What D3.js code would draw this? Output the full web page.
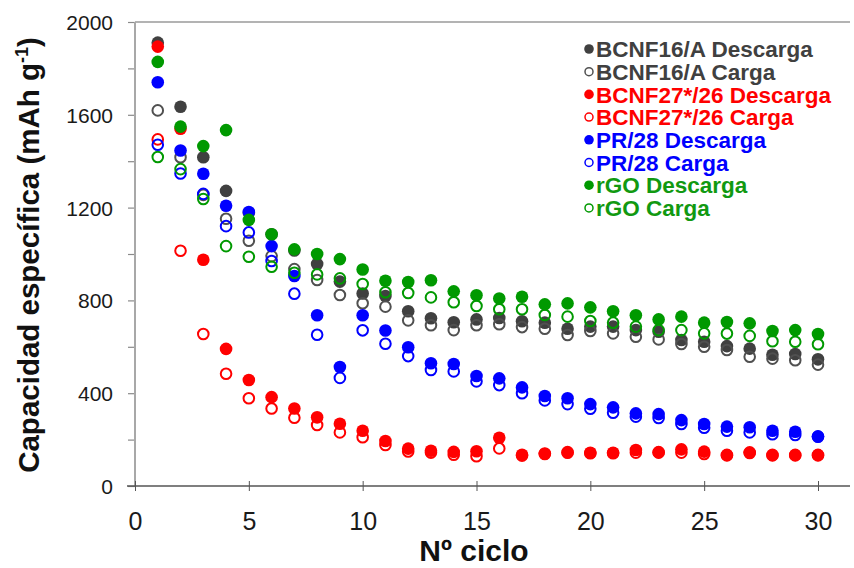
<!DOCTYPE html>
<html>
<head>
<meta charset="utf-8">
<script src="https://cdn.jsdelivr.net/npm/d3@7"></script>
<style>
  html, body { margin: 0; padding: 0; background: #fff; }
  svg { display: block; }
</style>
</head>
<body>
<svg id="chart" width="854" height="568"></svg>
<script>
// Capacidad específica frente al número de ciclo
const cycles = d3.range(1, 31);

const bcnf16Descarga = [1911, 1635, 1417, 1272, 1178, 1085, 1015, 957, 881, 830, 819, 753, 723, 706, 718, 724, 710, 704, 678, 687, 687, 672, 665, 629, 622, 603, 592, 566, 569, 546];
const bcnf16Carga    = [1619, 1417, 1255, 1152, 1057, 991, 935, 888, 823, 788, 773, 714, 693, 672, 693, 697, 685, 678, 651, 668, 658, 643, 632, 612, 600, 586, 557, 549, 542, 523];
const bcnf27Descarga = [1894, 1540, 975, 591, 457, 383, 334, 296, 268, 238, 194, 161, 152, 147, 150, 208, 135, 140, 146, 143, 143, 155, 146, 158, 148, 134, 145, 134, 134, 134];
const bcnf27Carga    = [1494, 1014, 655, 484, 378, 334, 294, 263, 231, 210, 177, 149, 144, 135, 128, 162, 131, 138, 143, 141, 141, 144, 144, 144, 138, 132, 142, 132, 132, 132];
const pr28Descarga   = [1740, 1446, 1346, 1208, 1181, 1034, 905, 736, 513, 736, 670, 598, 529, 526, 474, 464, 425, 388, 378, 353, 339, 313, 310, 284, 267, 256, 253, 238, 234, 214];
const pr28Carga      = [1471, 1347, 1259, 1120, 1093, 970, 829, 652, 466, 671, 613, 560, 500, 494, 451, 435, 400, 369, 353, 333, 316, 299, 293, 267, 251, 238, 231, 223, 220, 212];
const rgoDescarga    = [1828, 1549, 1465, 1534, 1147, 1085, 1020, 1000, 978, 933, 885, 879, 887, 839, 822, 808, 816, 783, 787, 770, 753, 736, 718, 730, 704, 707, 701, 668, 672, 655];
const rgoCarga       = [1418, 1366, 1237, 1034, 988, 945, 919, 912, 895, 871, 835, 832, 813, 792, 776, 762, 762, 737, 730, 711, 704, 687, 672, 672, 658, 657, 647, 624, 622, 611];

const xTicks = [0, 5, 10, 15, 20, 25, 30];
const yTickLabels = [0, 400, 800, 1200, 1600, 2000];
const yTicksMinor = [200, 600, 1000, 1400, 1800];

const seriesList = [
  { name: "BCNF16/A Descarga",   values: bcnf16Descarga, color: "#404040", filled: true },
  { name: "BCNF16/A Carga",      values: bcnf16Carga,    color: "#505050", filled: false },
  { name: "BCNF27*/26 Descarga", values: bcnf27Descarga, color: "#ff0000", filled: true },
  { name: "BCNF27*/26 Carga",    values: bcnf27Carga,    color: "#ff0000", filled: false },
  { name: "PR/28 Descarga",      values: pr28Descarga,   color: "#0000ff", filled: true },
  { name: "PR/28 Carga",         values: pr28Carga,      color: "#0000ff", filled: false },
  { name: "rGO Descarga",        values: rgoDescarga,    color: "#009900", filled: true },
  { name: "rGO Carga",           values: rgoCarga,       color: "#009900", filled: false }
];
const legendTextColors = ["#404040", "#404040", "#ff0000", "#ff0000", "#0000ff", "#0000ff", "#119911", "#119911"];

const svg = d3.select("#chart");
const plotLeft = 135, plotRight = 850, plotTop = 22, plotBottom = 486;

const x = d3.scaleLinear().domain([0, 30]).range([plotLeft, 818]);
const y = d3.scaleLinear().domain([0, 2000]).range([plotBottom, plotTop]);

// frame: top line and axes
svg.append("line")
  .attr("x1", plotLeft).attr("x2", plotRight).attr("y1", plotTop).attr("y2", plotTop)
  .attr("stroke", "#9a9a9a").attr("stroke-width", 1.5);

// y axis
const yAxisG = svg.append("g").attr("transform", `translate(${plotLeft},0)`)
  .call(d3.axisLeft(y).tickValues(yTickLabels.concat(yTicksMinor)).tickSize(7)
    .tickFormat(d => yTickLabels.includes(d) ? d : ""));
yAxisG.select(".domain").remove();
yAxisG.selectAll(".tick line").attr("stroke", "#8a8a8a").attr("stroke-width", 1.2);
yAxisG.selectAll(".tick text")
  .attr("x", -22).attr("dy", "0.36em")
  .style("font-family", "'Liberation Sans', Arial, sans-serif")
  .style("font-size", "21px").attr("fill", "#1a1a1a");
svg.append("line")
  .attr("x1", plotLeft).attr("x2", plotLeft).attr("y1", plotTop).attr("y2", plotBottom)
  .attr("stroke", "#a8a8a8").attr("stroke-width", 2);

// x axis
const xAxisG = svg.append("g").attr("transform", `translate(0,${plotBottom})`)
  .call(d3.axisBottom(x).tickValues(xTicks).tickSize(5).tickSizeOuter(0));
xAxisG.select(".domain").remove();
xAxisG.selectAll(".tick line").attr("y1", -5).attr("y2", 5).attr("stroke", "#555").attr("stroke-width", 1);
xAxisG.selectAll(".tick text")
  .attr("y", 26).attr("dy", "0.71em")
  .style("font-family", "'Liberation Sans Narrow', 'Liberation Sans', Arial, sans-serif")
  .style("font-size", "25px").attr("fill", "#1a1a1a");
svg.append("line")
  .attr("x1", plotLeft - 8).attr("x2", plotRight).attr("y1", plotBottom).attr("y2", plotBottom)
  .attr("stroke", "#555").attr("stroke-width", 1.3);

// axis titles
svg.append("text")
  .attr("x", 474).attr("y", 561).attr("text-anchor", "middle")
  .style("font-family", "'Liberation Sans Narrow', 'Liberation Sans', Arial, sans-serif")
  .style("font-weight", "bold").style("font-size", "30px").attr("fill", "#111")
  .text("Nº ciclo");

const yTitle = svg.append("text")
  .attr("transform", "translate(39,255) rotate(-90)")
  .attr("text-anchor", "middle")
  .style("font-family", "'Liberation Sans', Arial, sans-serif")
  .style("font-weight", "bold").style("font-size", "29.5px").attr("fill", "#111");
yTitle.append("tspan").text("Capacidad específica (mAh g");
yTitle.append("tspan").attr("dy", -11).style("font-size", "18px").text("-1");
yTitle.append("tspan").attr("dy", 11).text(")");

// data points
const plot = svg.append("g");
seriesList.forEach(s => {
  plot.append("g").selectAll("circle")
    .data(s.values.map((v, i) => ({ c: cycles[i], v })))
    .join("circle")
    .attr("cx", d => x(d.c))
    .attr("cy", d => y(d.v))
    .attr("r", s.filled ? 6.3 : 5.3)
    .attr("fill", s.filled ? s.color : "#fff")
    .attr("fill-opacity", s.filled ? 1 : 0)
    .attr("stroke", s.color)
    .attr("stroke-width", s.filled ? 0 : 2);
});

// legend
const legend = svg.append("g");
seriesList.forEach((s, i) => {
  const ly = 49 + i * 22.7;
  legend.append("circle")
    .attr("cx", 589).attr("cy", ly).attr("r", s.filled ? 4.8 : 4)
    .attr("fill", s.filled ? s.color : "none")
    .attr("stroke", s.color).attr("stroke-width", s.filled ? 0 : 1.5);
  legend.append("text")
    .attr("x", 596).attr("y", ly).attr("dy", "0.36em")
    .style("font-family", "'Liberation Sans', Arial, sans-serif")
    .style("font-weight", "bold").style("font-size", "22.5px")
    .attr("fill", legendTextColors[i])
    .text(s.name);
});
</script>
</body>
</html>
